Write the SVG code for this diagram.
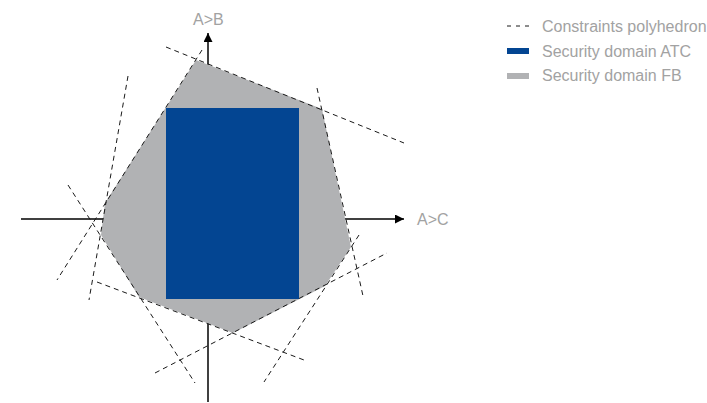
<svg xmlns="http://www.w3.org/2000/svg" width="707" height="403" viewBox="0 0 707 403">
<style>
.lbl{font-family:"Liberation Sans",Arial,sans-serif;font-size:16px;fill:#a2a2a2}
.axis{stroke:#000;stroke-width:1.5;fill:none}
.cons{stroke:#1a1a1a;stroke-width:1;stroke-dasharray:5,4;fill:none}
</style>
<defs>
<marker id="arr" viewBox="0 0 10 10" refX="10" refY="5" markerWidth="6" markerHeight="6" orient="auto" markerUnits="strokeWidth">
<path d="M0,0 L10,5 L0,10 z" fill="#000"/>
</marker>
</defs>
<rect width="707" height="403" fill="#fff"/>
<g id="axes">
<line class="axis" x1="21" y1="219" x2="404" y2="219" marker-end="url(#arr)"/>
<line class="axis" x1="208" y1="402" x2="208" y2="33" marker-end="url(#arr)"/>
<text class="lbl" x="193" y="25">A&gt;B</text>
<text class="lbl" x="417" y="225">A&gt;C</text>
</g>
<g id="fb-domain">
<polygon points="196,60 322,109 351,247 325,286 233,333 139,297 101,235 105,203" fill="#b1b2b4"/>
</g>
<g id="atc-domain">
<rect x="166" y="108" width="133" height="191" fill="#034592"/>
</g>
<g id="constraints">
<line class="cons" x1="166" y1="47" x2="404" y2="143"/>
<line class="cons" x1="202" y1="50" x2="57" y2="280"/>
<line class="cons" x1="128" y1="76" x2="89" y2="300"/>
<line class="cons" x1="68" y1="185" x2="195" y2="383"/>
<line class="cons" x1="97" y1="282" x2="304" y2="360"/>
<line class="cons" x1="155" y1="373" x2="387" y2="253"/>
<line class="cons" x1="359" y1="235" x2="264" y2="382"/>
<line class="cons" x1="317" y1="88" x2="363" y2="296"/>
</g>
<g id="legend">
<line x1="507" y1="26" x2="529" y2="26" stroke="#1a1a1a" stroke-width="1" stroke-dasharray="4,5"/>
<text class="lbl" x="542" y="32">Constraints polyhedron</text>
<rect x="507" y="48" width="22" height="6" fill="#034592"/>
<text class="lbl" x="542" y="57">Security domain ATC</text>
<rect x="507" y="73" width="22" height="6" fill="#b1b2b4"/>
<text class="lbl" x="542" y="81">Security domain FB</text>
</g>
</svg>
